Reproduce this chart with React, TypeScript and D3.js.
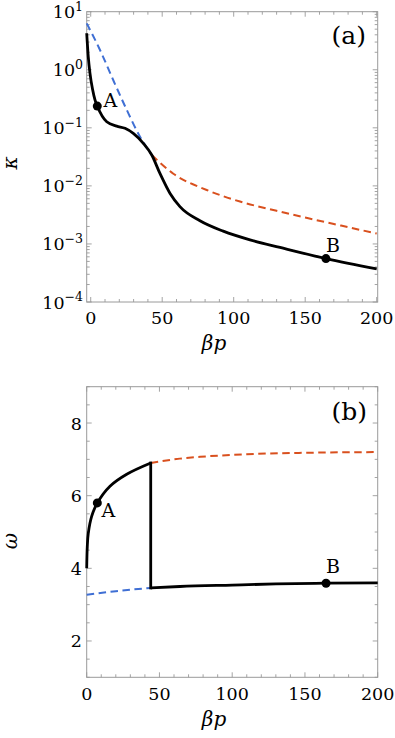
import React from "react";
import * as d3 from "d3";

// ---------- data ----------
// panel (a): kappa vs beta p (log scale)
const aBlackX = [-2.8, -1.7, -0.5, 1.4, 3.0, 4.6, 11.2, 18.2, 24, 29.8, 36.8, 42.7, 48.5, 55.5, 62.4, 76.4, 92.7, 111.4, 132.4, 164.5, 200];
const aBlackK = [4.25, 1.67, 0.867, 0.447, 0.302, 0.237, 0.127, 0.107, 0.098, 0.08, 0.054, 0.034, 0.0162, 0.0074, 0.0044, 0.00251, 0.00166, 0.001175, 0.00087, 0.00056, 0.000372];
const aBlueX = [-2.8, 6.5, 15.8, 25.2, 34.5, 42.7];
const aBlueK = [6.3, 2.19, 0.66, 0.204, 0.07, 0.034];
const aRedX = [42.7, 57.8, 81.1, 104.4, 130, 150, 175, 200];
const aRedK = [0.034, 0.0162, 0.0085, 0.00537, 0.00372, 0.00285, 0.00207, 0.00151];
const aPointsX = [4.6, 164.5];
const aPointsK = [0.237, 0.00056];
const pointNames = ["A", "B"];

// panel (b): omega vs beta p
const bUpperX = [0, 0.4, 1.1, 3.4, 7.3, 16, 27.5, 44];
const bUpperW = [4.0, 4.6, 4.97, 5.43, 5.8, 6.26, 6.59, 6.9];
const bLowerX = [44, 64, 100, 130, 164.5, 200];
const bLowerW = [3.46, 3.5, 3.54, 3.57, 3.59, 3.6];
const bBlueX = [0, 20, 44];
const bBlueW = [3.27, 3.37, 3.46];
const bRedX = [44, 64, 78, 110, 150, 200];
const bRedW = [6.9, 7.02, 7.07, 7.14, 7.18, 7.2];
const bPointsX = [7.3, 164.5];
const bPointsW = [5.8, 3.59];

const xTickLabels = [0, 50, 100, 150, 200];
const aYTickExps = [-4, -3, -2, -1, 0, 1];
const bYTickLabels = [2, 4, 6, 8];

// ---------- style ----------
const FONT = "'DejaVu Serif', serif";
const FRAME = "#9a9a9a";
const BLUE = "#3f6fd4";
const RED = "#d9501e";
const TICK_FS = 17.5;

const L = 86.7, R = 377.7;
const aTop = 11.7, aBot = 302;
const bTop = 386.7, bBot = 677.3;

const xA = d3.scaleLinear().domain([-2.8, 200.7]).range([L, R]);
const yA = d3.scaleLog().domain([1e-4, 10]).range([aBot, aTop]);
const xB = d3.scaleLinear().domain([0, 200]).range([L, R]);
const yB = d3.scaleLinear().domain([1, 9]).range([bBot, bTop]);

function pathOf(xs: number[], ys: number[], sx: any, sy: any, curve: any = d3.curveMonotoneX) {
  const pts = xs.map((x, i) => [x, ys[i]] as [number, number]);
  return d3.line<[number, number]>().x((d) => sx(d[0])).y((d) => sy(d[1])).curve(curve)(pts) || "";
}

function Frame({ sx, sy, top, bot, xt, yt }: any) {
  const els: any[] = [];
  xt.forEach((t: any, i: number) => {
    const x = sx(t.v);
    const len = t.major ? 5 : 3;
    els.push(<line key={"xb" + i} x1={x} x2={x} y1={bot} y2={bot - len} stroke={FRAME} strokeWidth={0.9} />);
    els.push(<line key={"xt" + i} x1={x} x2={x} y1={top} y2={top + len} stroke={FRAME} strokeWidth={0.9} />);
  });
  yt.forEach((t: any, i: number) => {
    const y = sy(t.v);
    const len = t.major ? 5 : 3;
    els.push(<line key={"yl" + i} x1={L} x2={L + len} y1={y} y2={y} stroke={FRAME} strokeWidth={0.9} />);
    els.push(<line key={"yr" + i} x1={R} x2={R - len} y1={y} y2={y} stroke={FRAME} strokeWidth={0.9} />);
  });
  return (
    <g>
      <rect x={L} y={top} width={R - L} height={bot - top} fill="none" stroke={FRAME} strokeWidth={1} />
      {els}
    </g>
  );
}

export default function App() {
  const xTicks = d3.range(0, 201, 10).map((v) => ({ v, major: v % 50 === 0 }));
  const aYTicks: any[] = [];
  for (let k = -4; k <= 0; k++) for (let m = 1; m <= 9; m++) aYTicks.push({ v: m * Math.pow(10, k), major: m === 1 });
  aYTicks.push({ v: 10, major: true });
  const bYTicks = d3.range(1, 9.01, 0.5).map((v) => ({ v, major: Math.abs(v - Math.round(v)) < 1e-9 && Math.round(v) % 2 === 0 }));

  return (
    <svg width={395} height={738} style={{ position: "absolute", left: 0, top: 0, background: "#fff", fontFamily: FONT }}>
      {/* ===== Panel (a) ===== */}
      <Frame sx={xA} sy={yA} top={aTop} bot={aBot} xt={xTicks} yt={aYTicks} />
      <path d={pathOf(aBlueX, aBlueK, xA, yA)} fill="none" stroke={BLUE} strokeWidth={2} strokeDasharray="7.5,4.5" />
      <path d={pathOf(aRedX, aRedK, xA, yA)} fill="none" stroke={RED} strokeWidth={2} strokeDasharray="7.5,4.5" />
      <path d={pathOf(aBlackX, aBlackK, xA, yA)} fill="none" stroke="#000" strokeWidth={2.8} strokeLinejoin="round" />
      {aPointsX.map((x, i) => (
        <circle key={"pa" + i} cx={xA(x)} cy={yA(aPointsK[i])} r={4.5} fill="#000" />
      ))}
      <text x={103.5} y={106.5} fontSize={19}>{pointNames[0]}</text>
      <text x={326} y={251.5} fontSize={19}>{pointNames[1]}</text>
      <text x={366} y={44} fontSize={25} textAnchor="end">(a)</text>
      {xTickLabels.map((v) => (
        <text key={"axl" + v} x={xA(v)} y={324} fontSize={TICK_FS} textAnchor="middle">{v}</text>
      ))}
      {aYTickExps.map((e) => (
        <text key={"ayl" + e} x={83} y={yA(Math.pow(10, e)) + 6.5} fontSize={TICK_FS} textAnchor="end">
          10<tspan dy={-7.5} fontSize={12.5}>{e < 0 ? "\u2212" + -e : String(e)}</tspan>
        </text>
      ))}
      <text x={214} y={350} fontSize={20} fontStyle="italic" textAnchor="middle">βp</text>
      <text transform="translate(17,163) rotate(-90)" fontSize={20} fontStyle="italic" textAnchor="middle">κ</text>

      {/* ===== Panel (b) ===== */}
      <Frame sx={xB} sy={yB} top={bTop} bot={bBot} xt={xTicks} yt={bYTicks} />
      <path d={pathOf(bBlueX, bBlueW, xB, yB)} fill="none" stroke={BLUE} strokeWidth={2} strokeDasharray="7.5,4.5" />
      <path d={pathOf(bRedX, bRedW, xB, yB)} fill="none" stroke={RED} strokeWidth={2} strokeDasharray="7.5,4.5" />
      <path d={pathOf(bUpperX, bUpperW, xB, yB, d3.curveCatmullRom)} fill="none" stroke="#000" strokeWidth={2.8} />
      <path d={pathOf([bUpperX[bUpperX.length - 1], bLowerX[0]], [bUpperW[bUpperW.length - 1], bLowerW[0]], xB, yB, d3.curveLinear)} fill="none" stroke="#000" strokeWidth={2.8} strokeLinecap="square" />
      <path d={pathOf(bLowerX, bLowerW, xB, yB)} fill="none" stroke="#000" strokeWidth={2.8} />
      {bPointsX.map((x, i) => (
        <circle key={"pb" + i} cx={xB(x)} cy={yB(bPointsW[i])} r={4.5} fill="#000" />
      ))}
      <text x={101.5} y={516.5} fontSize={19}>{pointNames[0]}</text>
      <text x={326} y={573.3} fontSize={19}>{pointNames[1]}</text>
      <text x={367} y={420} fontSize={25} textAnchor="end">(b)</text>
      {xTickLabels.map((v) => (
        <text key={"bxl" + v} x={xB(v)} y={700} fontSize={TICK_FS} textAnchor="middle">{v}</text>
      ))}
      {bYTickLabels.map((v) => (
        <text key={"byl" + v} x={82} y={yB(v) + 6.5} fontSize={TICK_FS} textAnchor="end">{v}</text>
      ))}
      <text x={214} y={726} fontSize={20} fontStyle="italic" textAnchor="middle">βp</text>
      <text transform="translate(17,541) rotate(-90)" fontSize={20} fontStyle="italic" textAnchor="middle">ω</text>
    </svg>
  );
}
